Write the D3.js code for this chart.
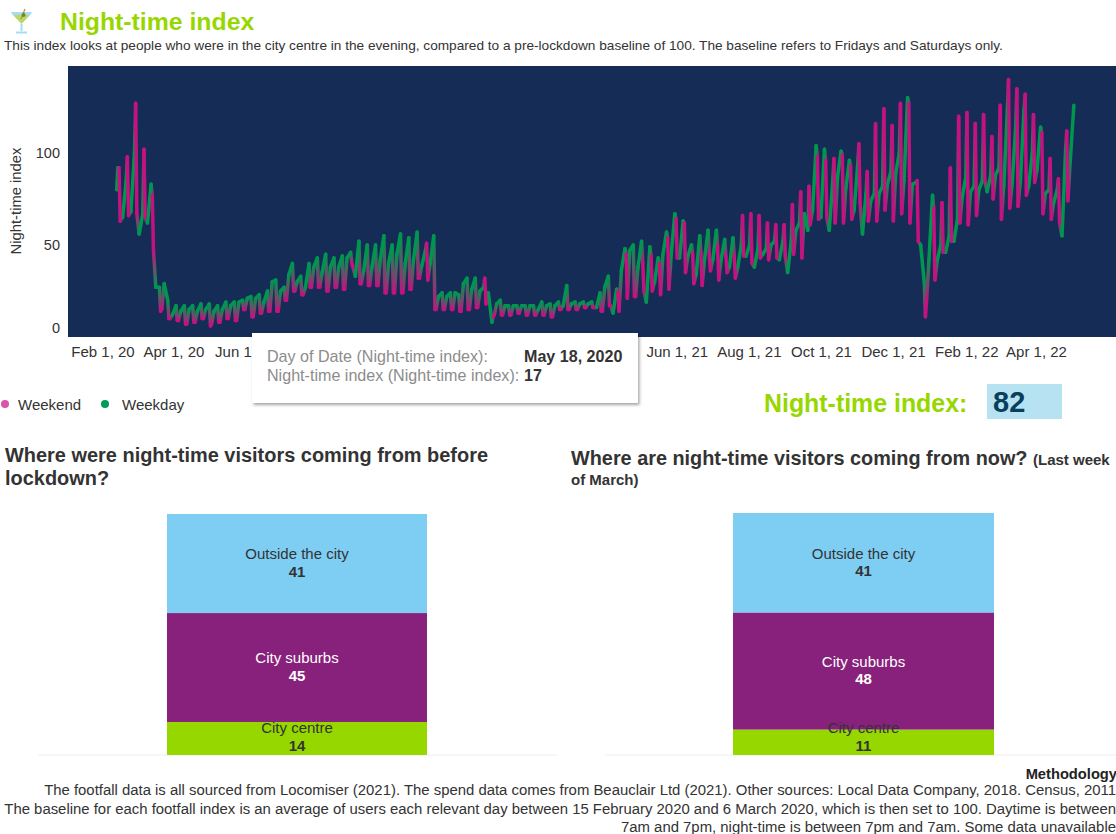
<!DOCTYPE html>
<html><head><meta charset="utf-8">
<script src="https://cdnjs.cloudflare.com/ajax/libs/d3/7.8.5/d3.min.js"></script>
<style>
html,body{margin:0;padding:0;background:#fff;overflow:hidden}
svg{display:block}
text{font-family:"Liberation Sans",Arial,sans-serif}
</style></head><body><svg id="c" width="1116" height="834"></svg>
<script>
// Weekly readings of the night-time index, one entry per week from Sat 15 Feb 2020
const weekendPeak=[92,98,127,102,77,14,10,9,7,8,10,6,8,10,9,15,11,13,14,14,20,25,23,27,27,25,27,26,40,29,28,28,24,24,24,26,32,51,15,15,15,14,15,16,32,11,12,12,13,12,12,12,11,15,15,15,16,16,14,17,25,45,22,40,44,40,54,64,62,45,45,45,49,44,44,66,67,66,62,61,61,72,79,82,98,96,97,99,93,105,90,116,124,115,127,127,85,11,70,73,92,120,122,116,121,109,126,140,135,132,121,111,97,86,112];
const weekendDip=[63,66,67,65,47,15,10,9,7,8,10,7,8,10,9,15,11,13,14,14,20,25,23,27,27,25,27,26,38,29,28,28,24,24,24,26,32,31,15,15,15,14,15,16,18,12,12,12,13,12,12,12,11,15,15,15,16,16,14,17,14,21,22,25,25,23,26,43,35,29,28,36,31,35,32,44,40,43,42,43,44,45,43,61,64,65,62,62,64,73,63,63,69,63,67,62,52,20,31,46,52,62,61,66,85,75,64,70,71,77,84,67,64,62,74];
const weekdayDip=[65,68,56,62,27,29,12,14,15,14,15,14,15,17,19,21,21,19,30,25,34,30,27,38,35,38,38,43,33,36,38,42,40,45,40,42,39,40,22,22,24,29,26,25,24,18,17,17,17,17,15,17,17,17,18,18,18,16,27,13,36,47,38,19,30,45,45,43,44,34,42,42,42,38,38,44,38,45,50,42,35,58,67,69,65,58,87,81,69,56,74,78,83,89,85,83,50,42,42,46,52,76,79,80,79,88,82,83,85,82,91,78,73,55,96];
const weekdayTop=[85,100,67,83,27,20,17,17,17,18,18,17,19,19,20,22,23,25,31,27,40,33,40,43,45,43,44,46,52,50,50,55,50,56,54,57,47,55,24,24,23,32,32,27,8,20,17,17,17,17,19,18,19,28,19,19,19,24,33,26,48,50,52,49,43,57,67,63,50,55,58,58,53,54,50,50,48,48,52,52,52,62,58,104,102,85,101,96,94,78,78,82,90,100,130,84,30,77,50,55,64,87,82,85,88,92,123,114,123,100,114,80,80,101,126];
const leadIn=[80,92];
const xTickDates=["2020-02-01","2020-04-01","2020-06-01","2021-06-01","2021-08-01","2021-10-01","2021-12-01","2022-02-01","2022-04-01"];
const yTicks=[0,50,100];
const legendNames=["Weekend","Weekday"];
const stackCategories=["City centre","City suburbs","Outside the city"];
const beforeShares=[13.7,45.2,41.1];
const nowShares=[10.5,48.4,41.1];
const footerLines=[
"The footfall data is all sourced from Locomiser (2021). The spend data comes from Beauclair Ltd (2021). Other sources: Local Data Company, 2018. Census, 2011",
"The baseline for each footfall index is an average of users each relevant day between 15 February 2020 and 6 March 2020, which is then set to 100. Daytime is between",
"7am and 7pm, night-time is between 7pm and 7am. Some data unavailable"];

const PINK="#c4127f",GREEN="#009650",NAVY="#152c57",LIME="#97d700",INK="#333333";
const svg=d3.select("#c");
const parse=d3.timeParse("%Y-%m-%d");

// ---------- header
const icon=svg.append("g");
icon.append("path").attr("d","M13 15 L30 15 L21.5 24 Z").attr("fill","#b5d96a");
icon.append("path").attr("d","M11 12 H32 L30.5 15 H12.5 Z").attr("fill","#a5dcf5");
icon.append("path").attr("d","M21.5 24 V31").attr("stroke","#a5dcf5").attr("stroke-width",2);
icon.append("path").attr("d","M16 32.5 H27").attr("stroke","#a5dcf5").attr("stroke-width",2);
icon.append("path").attr("d","M25 9 L21 19").attr("stroke","#d9822b").attr("stroke-width",1.2);
icon.append("circle").attr("cx",23.5).attr("cy",15).attr("r",2).attr("fill","#6c8a1f");
svg.append("text").attr("x",60).attr("y",30).attr("font-size",24.8).attr("font-weight","bold").attr("fill",LIME).text("Night-time index");
svg.append("text").attr("x",4).attr("y",50).attr("font-size",13.65).attr("fill",INK)
 .text("This index looks at people who were in the city centre in the evening, compared to a pre-lockdown baseline of 100. The baseline refers to Fridays and Saturdays only.");

// ---------- line chart
const plot={l:68,r:1116,t:66,b:337};
svg.append("rect").attr("x",plot.l).attr("y",plot.t).attr("width",plot.r-plot.l).attr("height",plot.b-plot.t).attr("fill",NAVY);
const x=d3.scaleTime().domain([parse("2020-02-01"),parse("2022-04-01")]).range([102.4,1040.6]);
const xLabels=d3.scaleTime().domain(x.domain()).range([102.5,1036]);
const y=d3.scaleLinear().domain([0,147.3]).range([plot.b,plot.t]);

const start=parse("2020-02-15");
const pts=[];
leadIn.forEach((v,i)=>pts.push({d:d3.timeDay.offset(start,i-2),v,c:GREEN}));
weekendPeak.forEach((p,k)=>{
  const base=d3.timeDay.offset(start,k*7);
  pts.push({d:base,v:p,c:PINK});
  pts.push({d:d3.timeDay.offset(base,1),v:weekendDip[k],c:PINK});
  pts.push({d:d3.timeDay.offset(base,3),v:weekdayDip[k],c:GREEN});
  pts.push({d:d3.timeDay.offset(base,6),v:weekdayTop[k],c:GREEN});
});
const segs=d3.pairs(pts);
const defs=svg.append("defs");
const line=d3.line().x(p=>x(p.d)).y(p=>y(p.v));
const lg=svg.append("g").attr("fill","none").attr("stroke-width",3.5).attr("stroke-linecap","round").attr("stroke-linejoin","round");
// colour transitions go down first, then weekday strokes, with weekend strokes on top
function rank([a,b]){return a.c!==b.c?0:(a.c===GREEN?1:2);}
const order=segs.map((s,i)=>({s,i})).sort((p,q)=>rank(p.s)-rank(q.s));
order.forEach(({s:[a,b],i})=>{
  let stroke=a.c;
  if(a.c!==b.c){
    const id="g"+i;
    const gr=defs.append("linearGradient").attr("id",id).attr("gradientUnits","userSpaceOnUse")
      .attr("x1",x(a.d)).attr("y1",y(a.v)).attr("x2",x(b.d)).attr("y2",y(b.v)+0.01);
    gr.append("stop").attr("offset",0).attr("stop-color",a.c);
    gr.append("stop").attr("offset",1).attr("stop-color",b.c);
    stroke=`url(#${id})`;
  }
  lg.append("path").datum([a,b]).attr("d",line).attr("stroke",stroke);
});

const fmt=d3.timeFormat("%b %-d, %y");
const xAxis=svg.append("g").attr("transform",`translate(0,${plot.b})`)
  .call(d3.axisBottom(xLabels).tickValues(xTickDates.map(parse)).tickFormat(fmt).tickSize(0).tickPadding(9));
xAxis.select(".domain").remove();
xAxis.selectAll("text").attr("font-size",15).attr("fill",INK).style("font-family",'"Liberation Sans",Arial,sans-serif');
const yAxis=svg.append("g").attr("transform",`translate(${plot.l},0)`)
  .call(d3.axisLeft(y).tickValues(yTicks).tickSize(0).tickPadding(8));
yAxis.select(".domain").remove();
yAxis.selectAll("text").attr("font-size",14.5).attr("fill",INK).style("font-family",'"Liberation Sans",Arial,sans-serif');
yAxis.selectAll(".tick").filter(d=>d===0).select("text").attr("y",-9);
svg.append("text").attr("transform","translate(21,201) rotate(-90)").attr("text-anchor","middle").attr("font-size",14.8).attr("fill",INK).text("Night-time index");

// ---------- tooltip
const shadow=defs.append("filter").attr("id","sh").attr("x","-5%").attr("y","-10%").attr("width","110%").attr("height","125%");
shadow.append("feDropShadow").attr("dx",1.5).attr("dy",2).attr("stdDeviation",1.5).attr("flood-color","#000").attr("flood-opacity",0.35);
const tip=svg.append("g");
tip.append("rect").attr("x",252).attr("y",333).attr("width",386).attr("height",70).attr("fill","#fff").attr("filter","url(#sh)");
tip.append("text").attr("x",267).attr("y",362).attr("font-size",16.1).attr("fill","#8c8c8c").text("Day of Date (Night-time index):");
tip.append("text").attr("x",267).attr("y",381).attr("font-size",16.1).attr("fill","#8c8c8c").text("Night-time index (Night-time index):");
tip.append("text").attr("x",524).attr("y",362).attr("font-size",16.1).attr("font-weight","bold").attr("fill",INK).text("May 18, 2020");
tip.append("text").attr("x",524).attr("y",381).attr("font-size",16.1).attr("font-weight","bold").attr("fill",INK).text("17");

// ---------- legend
const legendColours=["#d955a8","#009a5a"];
const legendDotX=[5,105],legendTextX=[18,122];
legendNames.forEach((n,i)=>{
  svg.append("circle").attr("cx",legendDotX[i]).attr("cy",404).attr("r",4).attr("fill",legendColours[i]);
  svg.append("text").attr("x",legendTextX[i]).attr("y",409.5).attr("font-size",15).attr("fill",INK).text(n);
});

// ---------- KPI
svg.append("text").attr("x",764).attr("y",412).attr("font-size",24.9).attr("font-weight","bold").attr("fill",LIME).text("Night-time index:");
svg.append("rect").attr("x",987).attr("y",384).attr("width",75).attr("height",35).attr("fill","#b7e2f1");
svg.append("text").attr("x",993).attr("y",412).attr("font-size",29).attr("font-weight","bold").attr("fill","#083f5c").text("82");

// ---------- stacked panels
const segColours=[LIME,"#87217b","#7ecef4"];
const labelColours=["#333","#fff","#333"];
function stack(values,x0,x1,top,bottom){
  const sy=d3.scaleLinear().domain([0,d3.sum(values)]).range([bottom,top]);
  const sx=d3.scaleBand().domain(["all"]).range([x0,x1]);
  const bars=svg.append("g"),labels=svg.append("g");
  let acc=0;
  values.forEach((v,i)=>{
    const y0=sy(acc),y1=sy(acc+v);acc+=v;
    bars.append("rect").attr("x",sx("all")).attr("width",sx.bandwidth()).attr("y",y1).attr("height",y0-y1).attr("fill",segColours[i]);
    const cx=sx("all")+sx.bandwidth()/2;
    const cy=i===0?bottom-25.5:(y0+y1)/2-8;
    labels.append("text").attr("x",cx).attr("y",cy).attr("text-anchor","middle").attr("dominant-baseline","middle").attr("font-size",15).attr("fill",labelColours[i]).text(stackCategories[i]);
    labels.append("text").attr("x",cx).attr("y",cy+17.5).attr("text-anchor","middle").attr("dominant-baseline","middle").attr("font-size",15).attr("font-weight","bold").attr("fill",labelColours[i]).text(d3.format(".0f")(v));
  });
}
svg.append("line").attr("x1",38).attr("x2",557).attr("y1",755).attr("y2",755).attr("stroke","#eeeeee");
svg.append("line").attr("x1",605).attr("x2",1116).attr("y1",755).attr("y2",755).attr("stroke","#eeeeee");
stack(beforeShares,167,427,514,755);
stack(nowShares,733,994,513,755);

const h=(t,xx,yy,fs)=>svg.append("text").attr("x",xx).attr("y",yy).attr("font-size",fs).attr("font-weight","bold").attr("fill",INK).text(t);
h("Where were night-time visitors coming from before",5,461.5,19.95);
h("lockdown?",5,485,19.95);
const right=h("Where are night-time visitors coming from now? ",571,464.5,19.85);
right.append("tspan").attr("font-size",15).text("(Last week");
h("of March)",571,484.5,15);

// ---------- footer
svg.append("text").attr("x",1117).attr("y",779).attr("text-anchor","end").attr("font-size",14.7).attr("font-weight","bold").attr("fill","#222").text("Methodology");
const footerY=[795,813.5,832];
footerLines.forEach((t,i)=>svg.append("text").attr("x",1116).attr("y",footerY[i]).attr("text-anchor","end").attr("font-size",14.9).attr("fill",INK).text(t));
</script></body></html>
